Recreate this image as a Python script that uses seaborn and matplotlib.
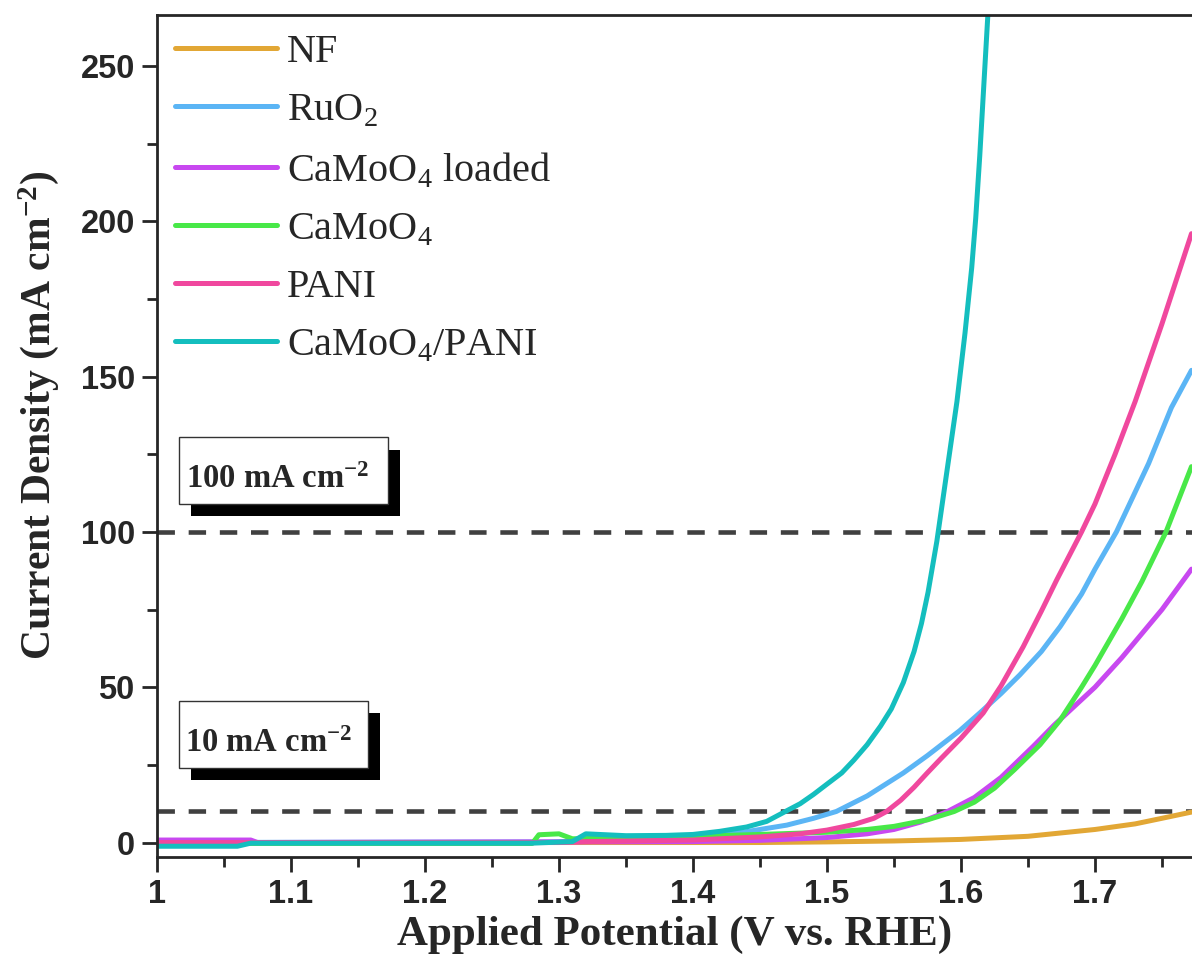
import numpy as np
import pandas as pd
import matplotlib.pyplot as plt
import seaborn as sns
from matplotlib.patches import Rectangle
from matplotlib.lines import Line2D

# ---------------- data ----------------
nf_x = [1.00, 1.45, 1.50, 1.55, 1.60, 1.65, 1.70, 1.73, 1.75, 1.772]
nf_y = [0.0, 0.0, 0.2, 0.5, 1.0, 2.0, 4.2, 6.0, 7.8, 9.8]

ru_x = [1.00, 1.30, 1.35, 1.40, 1.44, 1.47, 1.49, 1.507, 1.53, 1.557, 1.575, 1.599,
        1.614, 1.63, 1.644, 1.66, 1.674, 1.69, 1.70, 1.716, 1.74, 1.757, 1.772]
ru_y = [0.0, 0.2, 0.8, 1.6, 3.5, 5.6, 7.8, 10, 15, 22.4, 28, 36,
        41.7, 48, 54, 61.5, 69.5, 80, 88, 100, 122, 140, 152]

ld_x = [1.00, 1.07, 1.075, 1.40, 1.45, 1.50, 1.53, 1.55, 1.57, 1.59, 1.61, 1.63,
        1.654, 1.67, 1.69, 1.70, 1.72, 1.75, 1.772]
ld_y = [0.8, 0.8, 0.0, 0.3, 0.7, 1.6, 2.8, 4.2, 6.6, 10, 14.5, 21,
        31, 38, 46, 50, 59.5, 75, 88]

cm_x = [1.00, 1.28, 1.285, 1.30, 1.31, 1.35, 1.40, 1.45, 1.50, 1.53, 1.55, 1.575,
        1.595, 1.61, 1.625, 1.64, 1.659, 1.674, 1.69, 1.70, 1.72, 1.735, 1.753, 1.772]
cm_y = [-0.3, -0.3, 2.5, 2.8, 1.2, 1.5, 2.0, 2.6, 3.3, 4.2, 5.2, 7.3,
        10, 13, 17.5, 23.5, 31.5, 39.4, 50, 57, 72, 84, 100, 121]

pa_x = [1.00, 1.30, 1.32, 1.40, 1.45, 1.48, 1.50, 1.52, 1.535, 1.5445, 1.555, 1.565,
        1.5744, 1.585, 1.60, 1.6166, 1.63, 1.6464, 1.66, 1.6714, 1.69, 1.70, 1.715,
        1.73, 1.75, 1.772]
pa_y = [0.0, 0.0, 0.3, 0.8, 1.8, 2.8, 4.0, 5.8, 7.8, 10, 13.6, 17.8,
        22.2, 27, 33.6, 41.7, 50.5, 63, 74.5, 84.5, 100, 109, 125,
        142, 167, 196]

cp_x = [1.00, 1.06, 1.07, 1.28, 1.31, 1.32, 1.35, 1.38, 1.40, 1.42, 1.44, 1.455,
        1.469, 1.48, 1.49, 1.50, 1.511, 1.52, 1.53, 1.54, 1.548, 1.557, 1.565, 1.5705,
        1.5754, 1.582, 1.587, 1.592, 1.597, 1.603, 1.608, 1.611, 1.614, 1.620, 1.623]
cp_y = [-1.2, -1.2, -0.2, -0.2, 0.3, 2.8, 2.2, 2.3, 2.6, 3.6, 5.0, 6.8,
        10, 12.5, 15.5, 18.8, 22.4, 26.5, 31.5, 37.5, 43, 51.5, 61.5, 70.5,
        80.5, 97, 112, 127, 142, 164, 185, 201, 221, 266, 290]

labels = ['NF', 'RuO$_\\mathregular{2}$', 'CaMoO$_\\mathregular{4}$ loaded',
          'CaMoO$_\\mathregular{4}$', 'PANI', 'CaMoO$_\\mathregular{4}$/PANI']
colors = ['#E2A735', '#5BB5F5', '#C848F0', '#48E848', '#F0489E', '#14BEBE']
series = [(nf_x, nf_y), (ru_x, ru_y), (ld_x, ld_y), (cm_x, cm_y), (pa_x, pa_y), (cp_x, cp_y)]

ref_levels = [100, 10]
ref_texts = ['100 mA cm$\\mathregular{^{-2}}$', '10 mA cm$\\mathregular{^{-2}}$']

# ---------------- style ----------------
sns.set_style('ticks')
plt.rcParams['font.family'] = ['Liberation Serif', 'DejaVu Serif']
plt.rcParams['axes.linewidth'] = 2.0

fig = plt.figure(figsize=(11.92, 9.74), dpi=100)
ax = fig.add_axes([0.1317, 0.12, 0.8683, 0.8646])

for (xs, ys), lab, col in zip(series, labels, colors):
    df = pd.DataFrame({'E': xs, 'j': ys})
    sns.lineplot(data=df, x='E', y='j', color=col, linewidth=3.6, sort=False,
                 estimator=None, ax=ax, legend=False)

for lvl in ref_levels:
    ax.axhline(lvl, color='#404040', lw=3.3, dashes=(3.8, 3.0), zorder=1)

ax.set_xlim(1.0, 1.7724)
ax.set_ylim(-4.7, 266.4)
ax.set_xticks([1.0, 1.1, 1.2, 1.3, 1.4, 1.5, 1.6, 1.7])
ax.set_xticklabels(['1', '1.1', '1.2', '1.3', '1.4', '1.5', '1.6', '1.7'])
ax.set_xticks(np.arange(1.05, 1.77, 0.1), minor=True)
ax.set_yticks([0, 50, 100, 150, 200, 250])
ax.set_yticks([25, 75, 125, 175, 225], minor=True)
ax.tick_params(which='major', direction='out', length=11, width=2, pad=5)
ax.tick_params(which='minor', direction='out', length=7, width=2)
for t in ax.get_xticklabels() + ax.get_yticklabels():
    t.set_fontfamily('Liberation Sans')
    t.set_fontweight('bold')
    t.set_fontsize(23.5)
ax.spines['right'].set_visible(False)

ax.set_xlabel('Applied Potential (V vs. RHE)', fontsize=31, fontweight='bold', labelpad=4)
ax.set_ylabel('Current Density (mA cm$\\mathregular{^{-2}}$)', fontsize=30,
              fontweight='bold')
ax.yaxis.set_label_coords(-0.093, 0.525)

# reference boxes with drop shadow
boxes = [(1.0164, 109.1, 0.156, 21.3, 1.0216, 114.0),
         (1.0164, 24.1, 0.141, 21.6, 1.0210, 29.0)]
for (bx, by, bw, bh, tx, ty), txt in zip(boxes, ref_texts):
    ax.add_patch(Rectangle((bx + 0.009, by - 3.9), bw, bh, facecolor='black',
                           edgecolor='none', zorder=4))
    ax.add_patch(Rectangle((bx, by), bw, bh, facecolor='white', edgecolor='#333333',
                           lw=1.0, zorder=5))
    ax.text(tx, ty, txt, fontsize=23.5, fontweight='bold', zorder=6)

handles = [Line2D([], [], color=c, lw=3.6) for c in colors]
ax.legend(handles, labels, loc='upper left', bbox_to_anchor=(-0.006, 1.006),
          frameon=False, fontsize=29, handlelength=2.53, handletextpad=0.25,
          labelspacing=0.52, borderaxespad=0.2)

plt.savefig('out.png', dpi=100)
